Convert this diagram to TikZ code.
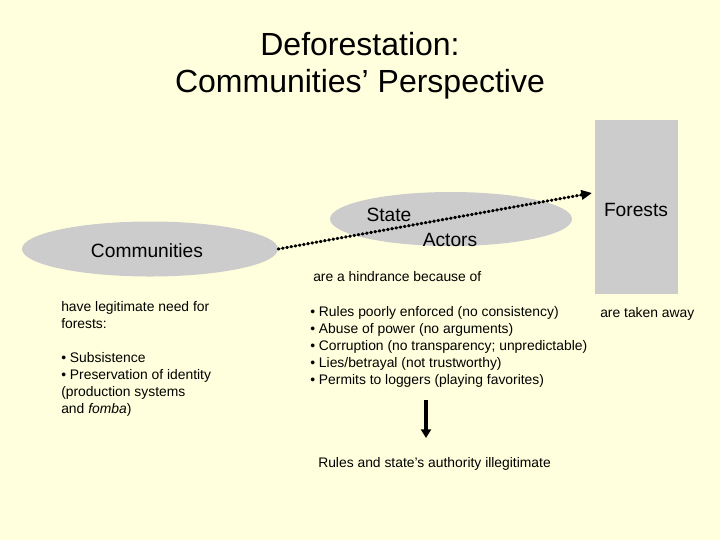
\documentclass[tikz,border=0pt]{standalone}
\usepackage{fontspec}
\setmainfont{Liberation Sans}
\usetikzlibrary{arrows.meta,shapes.geometric}
\definecolor{bg}{RGB}{255,255,221}
\definecolor{greyfill}{RGB}{204,204,204}
\tikzset{
  blob/.style={ellipse, fill=greyfill, draw=none, inner sep=0pt},
  mid/.style={font=\fontsize{14.4}{16}\selectfont, inner sep=0pt},
  small/.style={font=\fontsize{10.4}{12.75}\selectfont, inner sep=0pt, align=left},
  ttl/.style={font=\fontsize{24}{27.75}\selectfont, inner sep=0pt, anchor=base},
  dotarrow/.style={line width=2.3pt, line cap=round, dash pattern=on 0.6pt off 2.6pt, -{Triangle[length=8pt,width=7pt]}},
  downarrow/.style={line width=2.4pt, -{Triangle[length=6.5pt,width=7.5pt]}}
}
\begin{document}
\begin{tikzpicture}[x=0.75pt,y=-0.75pt]
\fill[bg] (0,0) rectangle (720,540);
\useasboundingbox (0,0) rectangle (720,540);

\node[ttl] (title1) at (360,55) {Deforestation:};
\node[ttl] (title2) at (360,92) {Communities’ Perspective};

\node[blob, minimum width=256*0.75pt, minimum height=55*0.75pt] (comm) at (150,249) {};
\node[mid, anchor=base] (commtxt) at (147,257) {Communities};

\node[blob, minimum width=242*0.75pt, minimum height=54*0.75pt] (state) at (451,219) {};
\node[mid, anchor=base] (statetxt) at (389,221) {State};
\node[mid, anchor=base] (actorstxt) at (450,246) {Actors};

\fill[greyfill] (595,120) rectangle (678,294);
\node[mid, anchor=base] (forests) at (636,216) {Forests};

\coordinate (aend) at (592,193);
\draw[dotarrow] (comm.east) -- (aend);

\node[small, anchor=base west] (hind) at (313,281) {are a hindrance because of};

\node[small, anchor=north west] (needs) at (61,301) {have legitimate need for\\forests:\\\mbox{}\\\textbullet\ Subsistence\\\textbullet\ Preservation of identity\\(production systems\\and \textit{fomba})};

\node[small, anchor=north west] (reasons) at (310,306) {\textbullet\ Rules poorly enforced (no consistency)\\\textbullet\ Abuse of power (no arguments)\\\textbullet\ Corruption (no transparency; unpredictable)\\\textbullet\ Lies/betrayal (not trustworthy)\\\textbullet\ Permits to loggers (playing favorites)};

\node[small, anchor=base west] (away) at (600,317) {are taken away};

\node[small, anchor=base west] (concl) at (318,467) {Rules and state’s authority illegitimate};

\coordinate (dstart) at (426,400);
\coordinate (dend) at (426,438);
\draw[downarrow] (dstart) -- (dend);
\end{tikzpicture}
\end{document}
